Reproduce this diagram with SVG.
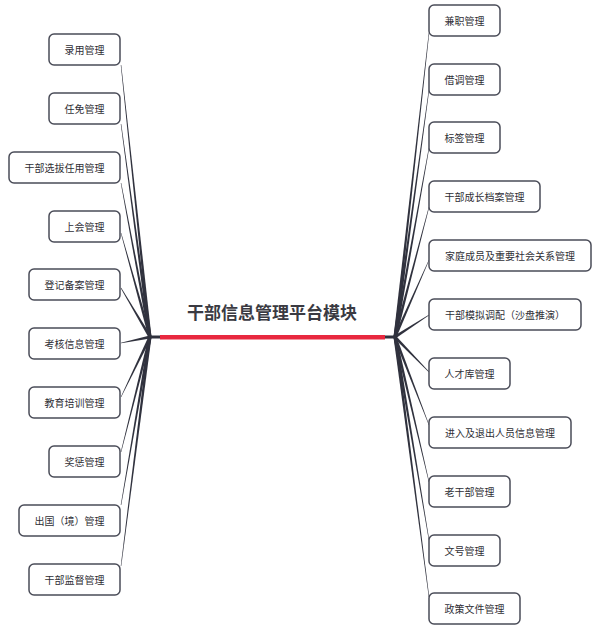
<svg xmlns="http://www.w3.org/2000/svg" width="602" height="630" viewBox="0 0 602 630">
<style>
.box{fill:#fff;stroke:#4a4c58;stroke-width:1.5}
.t{font-family:"Noto Sans CJK SC","Noto Sans",sans-serif;font-size:10px;fill:#2f2f36;text-anchor:middle;dominant-baseline:central}
.title{font-family:"Noto Sans CJK SC","Noto Sans",sans-serif;font-size:17px;font-weight:bold;fill:#3a3a42;text-anchor:middle}
.c{fill:#30323e}
</style>
<rect width="602" height="630" fill="#fff"/>
<g id="connectors">
<polygon class="c" points="151.49,336.84 121.25,64.97 120.75,65.03 148.51,337.16"/>
<polygon class="c" points="151.49,336.8 121.25,123.97 120.75,124.03 148.51,337.2"/>
<polygon class="c" points="151.47,336.72 121.25,182.95 120.75,183.05 148.53,337.28"/>
<polygon class="c" points="151.44,336.6 121.24,232.93 120.76,233.07 148.56,337.4"/>
<polygon class="c" points="151.29,336.24 121.22,287.87 120.78,288.13 148.71,337.76"/>
<polygon class="c" points="149.7,335.53 120.95,342.75 121.05,343.25 150.3,338.47"/>
<polygon class="c" points="148.65,336.35 120.77,396.89 121.23,397.11 151.35,337.65"/>
<polygon class="c" points="148.55,336.63 120.76,451.94 121.24,452.06 151.45,337.37"/>
<polygon class="c" points="148.52,336.74 120.75,504.96 121.25,505.04 151.48,337.26"/>
<polygon class="c" points="148.51,336.81 120.75,565.97 121.25,566.03 151.49,337.19"/>
<polygon class="c" points="396.49,337.17 429.25,33.03 428.75,32.97 393.51,336.83"/>
<polygon class="c" points="396.49,337.2 429.25,90.03 428.75,89.97 393.51,336.8"/>
<polygon class="c" points="396.48,337.27 429.25,148.04 428.75,147.96 393.52,336.73"/>
<polygon class="c" points="396.45,337.38 429.24,207.06 428.76,206.94 393.55,336.62"/>
<polygon class="c" points="396.37,337.61 429.23,260.1 428.77,259.9 393.63,336.39"/>
<polygon class="c" points="395.81,338.26 429.14,315.21 428.86,314.79 394.19,335.74"/>
<polygon class="c" points="393.92,338.05 428.82,372.17 429.18,371.83 396.08,335.95"/>
<polygon class="c" points="393.6,337.54 428.77,425.09 429.23,424.91 396.4,336.46"/>
<polygon class="c" points="393.54,337.34 428.76,482.06 429.24,481.94 396.46,336.66"/>
<polygon class="c" points="393.52,337.25 428.75,540.04 429.25,539.96 396.48,336.75"/>
<polygon class="c" points="393.51,337.19 428.75,597.03 429.25,596.97 396.49,336.81"/>
</g>
<g id="root">
<rect x="149" y="335.5" width="247" height="3" fill="#30323e"/>
<rect x="160" y="335" width="225" height="4.5" fill="#e8283f"/>
<text class="title" x="272" y="319">干部信息管理平台模块</text>
</g>
<g id="n-luyong"><rect class="box" x="49" y="34" width="71" height="31" rx="5"/><text class="t" x="84.5" y="49.5">录用管理</text></g>
<g id="n-renmian"><rect class="box" x="49" y="93" width="71" height="31" rx="5"/><text class="t" x="84.5" y="108.5">任免管理</text></g>
<g id="n-xuanba"><rect class="box" x="9" y="152" width="111" height="31" rx="5"/><text class="t" x="64.5" y="167.5">干部选拔任用管理</text></g>
<g id="n-shanghui"><rect class="box" x="49" y="211" width="71" height="31" rx="5"/><text class="t" x="84.5" y="226.5">上会管理</text></g>
<g id="n-dengji"><rect class="box" x="29" y="269" width="91" height="31" rx="5"/><text class="t" x="74.5" y="284.5">登记备案管理</text></g>
<g id="n-kaohe"><rect class="box" x="29" y="328" width="91" height="31" rx="5"/><text class="t" x="74.5" y="343.5">考核信息管理</text></g>
<g id="n-jiaoyu"><rect class="box" x="29" y="387" width="91" height="31" rx="5"/><text class="t" x="74.5" y="402.5">教育培训管理</text></g>
<g id="n-jiangcheng"><rect class="box" x="49" y="446" width="71" height="31" rx="5"/><text class="t" x="84.5" y="461.5">奖惩管理</text></g>
<g id="n-chuguo"><rect class="box" x="19" y="505" width="101" height="31" rx="5"/><text class="t" x="69.5" y="520.5">出国（境）管理</text></g>
<g id="n-jiandu"><rect class="box" x="29" y="564" width="91" height="31" rx="5"/><text class="t" x="74.5" y="579.5">干部监督管理</text></g>
<g id="n-jianzhi"><rect class="box" x="429" y="5" width="71" height="31" rx="5"/><text class="t" x="464.5" y="20.5">兼职管理</text></g>
<g id="n-jiediao"><rect class="box" x="429" y="64" width="71" height="31" rx="5"/><text class="t" x="464.5" y="79.5">借调管理</text></g>
<g id="n-biaoqian"><rect class="box" x="429" y="122" width="71" height="31" rx="5"/><text class="t" x="464.5" y="137.5">标签管理</text></g>
<g id="n-chengzhang"><rect class="box" x="429" y="181" width="111" height="31" rx="5"/><text class="t" x="484.5" y="196.5">干部成长档案管理</text></g>
<g id="n-jiating"><rect class="box" x="429" y="240" width="162" height="31" rx="5"/><text class="t" x="510" y="255.5">家庭成员及重要社会关系管理</text></g>
<g id="n-moni"><rect class="box" x="429" y="299" width="152" height="31" rx="5"/><text class="t" x="505" y="314.5">干部模拟调配（沙盘推演）</text></g>
<g id="n-rencai"><rect class="box" x="429" y="358" width="81" height="31" rx="5"/><text class="t" x="469.5" y="373.5">人才库管理</text></g>
<g id="n-jinru"><rect class="box" x="429" y="417" width="142" height="31" rx="5"/><text class="t" x="500" y="432.5">进入及退出人员信息管理</text></g>
<g id="n-laoganbu"><rect class="box" x="429" y="476" width="81" height="31" rx="5"/><text class="t" x="469.5" y="491.5">老干部管理</text></g>
<g id="n-wenhao"><rect class="box" x="429" y="535" width="71" height="31" rx="5"/><text class="t" x="464.5" y="550.5">文号管理</text></g>
<g id="n-zhengce"><rect class="box" x="429" y="593" width="91" height="31" rx="5"/><text class="t" x="474.5" y="608.5">政策文件管理</text></g>
</svg>
